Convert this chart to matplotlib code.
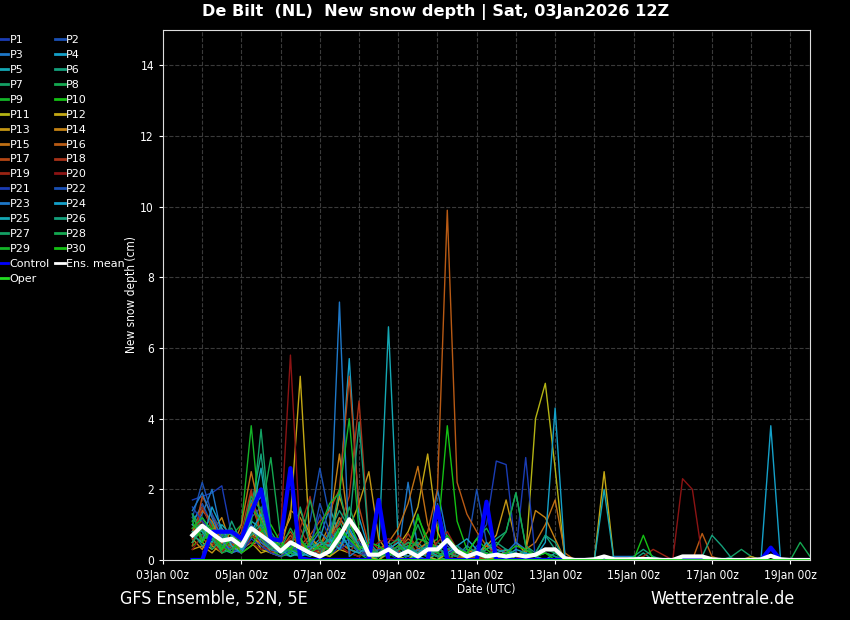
import matplotlib
matplotlib.use("Agg")
import matplotlib.pyplot as plt
import matplotlib.dates as mdates
import pandas as pd

# 6-hourly steps, first value valid 03Jan2026 18z, last 19Jan2026 12z
times = pd.date_range("2026-01-03 18:00", periods=64, freq="6h")

p1 = [1.7, 1.8, 1.9, 2.1, 0.7, 0.3, 0.9, 0.5,
      0.2, 0.1, 0.3, 0.2, 0.5, 0.3, 0.1, 0.4,
      0.9, 0.3, 0.1, 0, 0.2, 0, 0.4, 0.1,
      0, 0.3, 0.5, 0.2, 0, 0.4, 0.1, 0,
      0.2, 0, 0, 0, 0, 0, 0, 0,
      0, 0, 0, 0, 0, 0, 0, 0,
      0, 0, 0, 0, 0, 0, 0, 0,
      0, 0, 0, 0, 0, 0, 0, 0]
p2 = [1.0, 1.6, 1.0, 0.5, 0.4, 0.2, 1.2, 1.5,
      0.6, 0.3, 0.2, 0.6, 1.1, 2.6, 1.2, 0.3,
      1.0, 0.5, 0.2, 0, 0.3, 0.1, 0, 0.2,
      0.5, 0.1, 0, 0.2, 0.3, 2.0, 0.5, 0,
      0, 0.1, 0, 0, 0, 0, 0, 0,
      0, 0, 0, 0, 0, 0, 0, 0,
      0, 0, 0, 0, 0, 0, 0, 0,
      0, 0, 0, 0, 0, 0, 0, 0]
p3 = [0.8, 1.3, 2.0, 0.7, 0.3, 0.5, 1.7, 1.1,
      0.4, 0.2, 0.1, 0.4, 0.3, 0.2, 0.6, 1.2,
      0.8, 0.3, 0.1, 0.2, 0.5, 0.2, 2.2, 0.3,
      0.1, 2.0, 0.6, 0.2, 0, 0.3, 0.2, 0,
      0, 0, 0, 0, 0, 0, 0, 0,
      0, 0, 0, 0, 0, 0, 0, 0,
      0, 0, 0, 0, 0, 0, 0, 0,
      0, 0, 0, 0, 0, 0, 0, 0]
p4 = [1.1, 1.5, 0.9, 0.4, 0.6, 0.3, 1.4, 1.8,
      0.5, 0.3, 0.4, 0.2, 0.1, 0.3, 0.4, 1.8,
      5.7, 1.2, 0.3, 0.1, 0.4, 0.1, 0, 0.2,
      0.1, 0, 0.3, 0.1, 0, 0.2, 0, 0.1,
      0, 0, 0, 0, 0, 0, 0, 0,
      0, 0, 0, 0, 0, 0, 0, 0,
      0, 0, 0, 0, 0, 0, 0, 0,
      0, 0, 0, 3.8, 0, 0, 0, 0]
p5 = [0.6, 1.2, 0.8, 0.3, 0.2, 0.4, 1.1, 0.9,
      0.3, 0.1, 0.2, 0.1, 0.3, 0.6, 1.5, 0.7,
      0.4, 0.3, 0.1, 0.3, 6.6, 0.5, 0.2, 0.1,
      0, 0.2, 0.1, 0, 0.1, 0, 0.2, 0,
      0.1, 0, 0, 0, 0, 0, 0, 0,
      0, 0, 0, 0, 0, 0, 0, 0,
      0, 0, 0, 0, 0, 0, 0, 0,
      0, 0, 0, 0, 0, 0, 0, 0]
p6 = [1.3, 0.9, 0.6, 0.8, 0.3, 0.5, 1.5, 3.0,
      0.7, 0.3, 0.2, 0.4, 0.2, 0.1, 0.5, 0.9,
      0.6, 0.2, 0.1, 0, 0.3, 0.1, 0.3, 0.5,
      0.2, 0.1, 0.3, 0.4, 0.2, 0.1, 0.3, 0.6,
      0.8, 1.9, 0.4, 0.2, 0.7, 0.3, 0, 0,
      0, 0, 0, 0, 0, 0, 0.2, 0,
      0, 0, 0, 0, 0, 0, 0, 0,
      0, 0, 0, 0, 0, 0, 0, 0]
p7 = [0.9, 0.7, 1.1, 0.5, 0.4, 0.2, 1.0, 3.7,
      0.8, 0.4, 0.1, 0.3, 0.6, 0.2, 0.4, 1.1,
      0.5, 0.2, 0, 0.1, 0.2, 0.4, 0.1, 0.3,
      0.2, 0.5, 0.3, 0.1, 0, 0.2, 0.1, 0,
      0, 0.2, 0, 0, 0, 0, 0, 0,
      0, 0, 0, 0, 0, 0, 0, 0,
      0, 0, 0, 0, 0, 0, 0, 0.1,
      0.3, 0.1, 0, 0, 0, 0, 0, 0]
p8 = [0.5, 1.0, 0.4, 0.7, 0.9, 0.3, 0.6, 1.3,
      2.9, 0.6, 0.2, 0.1, 0.5, 0.3, 0.2, 0.7,
      1.2, 0.3, 0.1, 0.2, 0.1, 0.3, 0, 0.1,
      0.3, 0.1, 0, 0.2, 0.1, 0, 0, 0.2,
      0.1, 0, 0, 0, 0, 0, 0, 0,
      0, 0, 0, 0, 0, 0, 0, 0,
      0, 0, 0, 0, 0, 0, 0, 0,
      0, 0, 0, 0, 0, 0, 0.5, 0.1]
p9 = [1.2, 0.8, 0.5, 0.3, 0.7, 1.0, 3.8, 0.9,
      0.4, 0.2, 0.5, 0.3, 0.2, 0.1, 0.3, 0.8,
      0.6, 0.4, 0.2, 0.1, 0.3, 0.5, 0.2, 1.3,
      0.4, 0.1, 0.3, 0.2, 0.1, 0, 0.1, 0,
      0, 0, 0, 0, 0, 0, 0, 0,
      0, 0, 0, 0, 0, 0, 0, 0,
      0, 0, 0, 0, 0, 0, 0, 0,
      0, 0, 0, 0, 0, 0, 0, 0]
p10 = [0.4, 0.6, 1.0, 0.2, 0.5, 0.3, 0.7, 0.4,
       0.3, 0.1, 0.2, 0.4, 0.3, 0.2, 0.1, 0.6,
       1.1, 0.4, 0.3, 0.1, 0.2, 0.1, 0.3, 0.2,
       0.4, 0.6, 3.8, 1.1, 0.3, 0.2, 0.1, 0.3,
       0.2, 0.1, 0, 0, 0, 0, 0, 0,
       0, 0, 0, 0, 0, 0, 0, 0,
       0, 0, 0, 0, 0, 0, 0, 0,
       0, 0, 0, 0, 0, 0, 0, 0]
p11 = [0.7, 0.5, 0.3, 0.6, 0.2, 0.4, 0.8, 0.3,
       0.2, 0.1, 0.4, 0.6, 0.2, 0.1, 0.3, 0.5,
       0.3, 0.2, 0.1, 0, 0.2, 0.1, 0, 0.3,
       0.1, 0, 0.2, 0.1, 0, 0.3, 0.2, 0,
       0.3, 0, 0.1, 4.0, 5.0, 2.6, 0, 0,
       0, 0, 0, 0, 0, 0, 0, 0,
       0, 0, 0, 0, 0, 0, 0, 0,
       0, 0, 0, 0, 0, 0, 0, 0]
p12 = [0.5, 0.9, 0.4, 0.2, 0.6, 0.3, 0.5, 0.2,
       0.3, 0.6, 1.2, 5.2, 0.4, 0.2, 0.1, 0.3,
       0.2, 0.1, 0.3, 0.1, 0.2, 0.4, 0.8, 1.5,
       3.0, 0.8, 0.2, 0.1, 0, 0.2, 0.1, 0,
       0, 0, 0, 0, 0, 0, 0, 0,
       0, 0, 2.5, 0, 0, 0, 0, 0,
       0, 0, 0, 0, 0, 0, 0, 0,
       0, 0, 0, 0, 0, 0, 0, 0]
p13 = [0.3, 0.4, 0.2, 0.5, 0.8, 0.2, 0.4, 0.6,
       0.2, 0.4, 0.3, 1.4, 0.7, 0.3, 0.5, 1.8,
       0.9, 1.6, 2.5, 0.6, 0.2, 0.1, 0.3, 0.1,
       0.2, 0.1, 0.3, 0.2, 0, 0.1, 0.4, 0.7,
       1.7, 0.5, 0.2, 0.1, 0, 0, 0, 0,
       0, 0, 0, 0, 0, 0, 0, 0,
       0, 0, 0, 0, 0, 0, 0, 0,
       0, 0.1, 0, 0, 0, 0, 0, 0]
p14 = [0.6, 0.3, 0.8, 1.2, 0.4, 0.2, 0.9, 0.4,
       0.2, 0.3, 1.4, 1.2, 0.6, 0.4, 1.0, 3.0,
       0.8, 0.3, 0.1, 0.2, 0.4, 0.2, 0.1, 0.3,
       0.5, 0.2, 0.1, 0, 0.2, 0.3, 0.1, 0,
       0.2, 0.1, 0.3, 1.4, 1.2, 0.6, 0, 0,
       0, 0, 0, 0, 0, 0, 0, 0,
       0, 0, 0, 0, 0, 0, 0, 0,
       0, 0, 0, 0, 0, 0, 0, 0]
p15 = [0.8, 1.4, 1.1, 0.5, 0.3, 1.0, 2.5, 1.2,
       0.4, 0.2, 0.3, 0.5, 0.2, 0.1, 0.6, 1.2,
       0.7, 0.4, 0.2, 0.3, 0.5, 0.9, 1.6, 2.65,
       1.0, 0.3, 0.2, 0.1, 0, 0.2, 0.4, 0.3,
       0.2, 0.1, 0.3, 0.5, 1.0, 1.7, 0.2, 0,
       0, 0, 0, 0, 0, 0, 0, 0,
       0, 0, 0, 0, 0, 0, 0, 0,
       0, 0, 0, 0, 0, 0, 0, 0]
p16 = [1.0, 0.6, 0.4, 0.9, 0.5, 0.3, 1.6, 0.8,
       0.5, 0.3, 0.7, 0.4, 0.2, 0.4, 0.8, 0.5,
       0.3, 0.2, 0.4, 0.1, 0.2, 0.3, 0.6, 0.4,
       0.8, 2.0, 9.9, 2.2, 1.3, 0.8, 0.4, 0.2,
       0.1, 0, 0, 0, 0, 0, 0, 0,
       0, 0, 0, 0, 0, 0, 0, 0,
       0, 0, 0, 0, 0.75, 0.1, 0, 0,
       0, 0, 0, 0, 0, 0, 0, 0]
p17 = [0.4, 1.8, 1.3, 0.6, 0.2, 0.5, 1.9, 0.7,
       0.3, 0.5, 0.8, 0.4, 0.7, 1.1, 1.4, 2.0,
       5.2, 1.5, 0.4, 0.2, 0.1, 0.3, 0.5, 0.2,
       0.1, 0.3, 0.2, 0.1, 0, 0.1, 0, 0,
       0, 0, 0, 0, 0, 0, 0, 0,
       0, 0, 0, 0, 0, 0, 0, 0,
       0, 0, 0, 0, 0, 0, 0, 0,
       0, 0, 0, 0, 0, 0, 0, 0]
p18 = [0.9, 1.1, 0.7, 0.3, 0.4, 0.8, 2.0, 0.6,
       0.3, 0.2, 0.5, 0.9, 0.3, 0.2, 0.6, 1.0,
       1.8, 4.5, 0.6, 0.3, 0.4, 0.2, 0.75, 0.3,
       0.2, 0.4, 0.3, 0.1, 0.2, 0.1, 0, 0,
       0, 0, 0, 0, 0, 0, 0, 0,
       0, 0, 0, 0, 0, 0, 0, 0,
       0, 0, 0, 0, 0, 0, 0, 0,
       0, 0, 0, 0, 0, 0, 0, 0]
p19 = [0.6, 1.5, 0.9, 0.4, 0.3, 0.2, 0.7, 0.5,
       0.2, 0.4, 0.6, 0.9, 1.8, 0.5, 0.3, 0.4,
       0.2, 0.6, 0.3, 0.2, 0.1, 0.7, 0.4, 0.2,
       0.3, 0.5, 0.8, 0.3, 0.1, 0.2, 0.1, 0.4,
       0.2, 0.1, 0, 0, 0, 0, 0, 0,
       0, 0, 0, 0, 0, 0, 0.1, 0.3,
       0.15, 0, 0, 0, 0, 0, 0, 0,
       0, 0, 0, 0, 0, 0, 0, 0]
p20 = [0.3, 0.7, 0.5, 0.2, 0.6, 0.4, 0.5, 0.3,
       0.4, 0.8, 5.8, 0.6, 0.2, 0.3, 0.5, 0.4,
       0.2, 0.1, 0.3, 0.5, 0.6, 0.5, 0.3, 0.2,
       0.1, 0.2, 0.1, 0, 0, 0, 0, 0,
       0, 0, 0, 0, 0, 0, 0, 0,
       0, 0, 0, 0, 0, 0, 0, 0,
       0, 0, 2.3, 2.0, 0.1, 0, 0, 0,
       0, 0, 0, 0, 0, 0, 0, 0]
p21 = [1.5, 1.1, 0.8, 0.4, 0.3, 0.2, 0.6, 0.4,
       0.2, 0.1, 0.3, 0.2, 0.4, 1.3, 0.6, 0.3,
       0.5, 0.3, 0.1, 0.2, 0.1, 0.4, 0.2, 0.1,
       0.3, 0.2, 0.1, 0.4, 0.2, 0.6, 1.0, 2.8,
       2.7, 0.2, 2.9, 0, 0, 0, 0, 0,
       0, 0, 0, 0, 0, 0, 0, 0,
       0, 0, 0, 0, 0, 0, 0, 0,
       0, 0, 0, 0, 0, 0, 0, 0]
p22 = [1.2, 2.2, 1.3, 0.8, 0.5, 0.4, 1.0, 0.7,
       0.3, 0.2, 0.4, 0.2, 0.3, 1.6, 0.8, 0.4,
       0.6, 0.2, 0.1, 0.3, 0.2, 0.1, 0.4, 0.2,
       0.1, 1.6, 0.4, 0.2, 0.1, 0.3, 0.2, 0.1,
       0.1, 0, 0, 0, 0, 0, 0, 0,
       0, 0, 0, 0, 0, 0, 0, 0,
       0, 0, 0, 0, 0, 0, 0, 0,
       0, 0, 0, 0, 0, 0, 0, 0]
p23 = [1.4, 1.9, 1.2, 0.6, 0.2, 0.3, 0.9, 0.5,
       0.3, 0.2, 0.5, 0.3, 0.4, 0.8, 0.5, 7.3,
       0.1, 0.3, 0.2, 0.1, 0.4, 0.2, 0.1, 0.3,
       0.2, 0.4, 0.1, 0.3, 0.1, 0.2, 0.1, 0.3,
       0.2, 0.5, 0.3, 0.1, 0.2, 0.1, 0, 0,
       0, 0, 0, 0.1, 0.1, 0.1, 0, 0,
       0, 0, 0, 0, 0, 0, 0, 0,
       0, 0, 0, 0, 0, 0, 0, 0]
p24 = [0.7, 0.5, 1.5, 0.9, 0.4, 0.2, 0.8, 1.3,
       0.5, 0.2, 0.3, 0.1, 0.2, 0.4, 0.6, 0.3,
       0.9, 0.4, 0.2, 0.1, 0.3, 0.5, 0.2, 0.1,
       0.3, 0.1, 0.2, 0.4, 0.6, 0.3, 0.1, 0.2,
       0.1, 0.3, 0.2, 0.1, 0.5, 4.3, 0.1, 0,
       0, 0, 0, 0, 0, 0, 0, 0,
       0, 0, 0, 0, 0, 0, 0, 0,
       0, 0, 0, 0, 0, 0, 0, 0]
p25 = [1.0, 0.8, 0.5, 1.0, 0.7, 0.3, 1.2, 2.6,
       0.6, 0.3, 0.1, 0.2, 0.3, 0.5, 0.4, 0.9,
       0.3, 0.2, 0.4, 0.1, 0.2, 0.1, 0.3, 0.2,
       0.4, 0.2, 0.1, 0.3, 0.2, 0.1, 0.5, 0.2,
       0.3, 0.1, 0.2, 0.1, 0, 0.2, 0, 0,
       0, 0, 2.0, 0, 0, 0, 0, 0,
       0, 0, 0, 0, 0, 0, 0, 0,
       0, 0, 0, 0, 0, 0, 0, 0]
p26 = [0.8, 0.4, 0.6, 0.3, 1.1, 0.5, 0.7, 1.0,
       0.4, 0.2, 0.3, 0.6, 0.2, 0.1, 0.8, 1.4,
       0.9, 3.9, 0.5, 0.2, 0.1, 0.3, 0.4, 0.2,
       0.1, 0.3, 0.2, 0.1, 0.4, 0.2, 0.3, 0.5,
       0.3, 0.2, 0.1, 0.2, 0.7, 0.5, 0, 0,
       0, 0, 0, 0, 0, 0.1, 0.3, 0.1,
       0, 0, 0, 0, 0.1, 0.7, 0.4, 0.05,
       0, 0, 0, 0, 0, 0, 0, 0]
p27 = [0.5, 0.9, 0.3, 0.6, 0.8, 0.4, 0.9, 0.6,
       0.3, 0.5, 0.2, 1.5, 0.4, 0.3, 0.6, 2.0,
       0.7, 0.4, 0.3, 0.1, 0.2, 0.3, 0.5, 0.4,
       0.2, 0.1, 0.3, 0.4, 0.1, 0.3, 0.2, 0.1,
       0.2, 0.1, 0.3, 0.1, 0.2, 0.1, 0, 0,
       0, 0, 0, 0, 0, 0, 0, 0,
       0, 0, 0, 0, 0, 0, 0, 0,
       0, 0, 0, 0, 0, 0, 0, 0]
p28 = [1.3, 0.6, 0.7, 0.2, 0.3, 0.6, 1.8, 1.4,
       0.5, 0.3, 0.9, 0.4, 1.7, 0.6, 0.2, 0.5,
       1.5, 0.7, 0.3, 0.2, 0.4, 0.6, 0.3, 1.0,
       0.3, 0.2, 0.5, 0.3, 0.2, 0.6, 0.9, 0.4,
       0.8, 1.9, 0.4, 0.1, 0.3, 0.2, 0, 0,
       0, 0, 0, 0, 0, 0, 0, 0,
       0, 0, 0, 0, 0, 0, 0, 0,
       0, 0, 0, 0, 0, 0, 0, 0]
p29 = [0.9, 1.2, 0.8, 0.4, 0.2, 0.7, 1.5, 1.1,
       0.6, 0.4, 0.3, 0.2, 0.5, 0.9, 1.6, 1.9,
       4.0, 0.8, 0.3, 0.1, 0.2, 0.4, 0.2, 0.6,
       0.5, 0.2, 0.1, 0.3, 0.2, 0.1, 0.2, 0,
       0.1, 0, 0, 0, 0, 0, 0, 0,
       0, 0, 0, 0, 0, 0, 0, 0,
       0, 0, 0, 0, 0, 0, 0, 0,
       0, 0, 0, 0, 0, 0, 0, 0]
p30 = [1.1, 0.5, 0.9, 0.3, 0.6, 0.2, 0.4, 0.8,
       1.0, 0.5, 0.3, 0.6, 0.2, 0.4, 0.3, 0.9,
       0.6, 0.3, 0.5, 0.4, 0.2, 0.1, 0.3, 1.2,
       0.6, 0.3, 0.7, 0.3, 0.2, 0.6, 0.3, 0.1,
       0.2, 0.4, 0.3, 0.1, 0.2, 0, 0, 0,
       0, 0, 0, 0, 0, 0, 0.7, 0,
       0, 0, 0, 0, 0, 0, 0, 0,
       0, 0, 0, 0, 0, 0, 0, 0]

control = [0, 0, 0.8, 0.8, 0.8, 0.6, 1.35, 2.0,
           0.6, 0.55, 2.6, 0.05, 0, 0, 0, 0,
           0, 0, 0, 1.7, 0, 0, 0, 0,
           0, 1.5, 0, 0, 0, 0, 1.65, 0,
           0, 0, 0, 0, 0, 0, 0, 0,
           0, 0, 0, 0, 0, 0, 0, 0,
           0, 0, 0, 0, 0, 0, 0, 0,
           0, 0, 0, 0.35, 0, 0, 0, 0]
ens_mean = [0.7, 0.97, 0.75, 0.55, 0.6, 0.4, 0.9, 0.7,
            0.5, 0.25, 0.5, 0.35, 0.2, 0.1, 0.25, 0.65,
            1.15, 0.75, 0.15, 0.15, 0.3, 0.12, 0.25, 0.1,
            0.3, 0.3, 0.57, 0.25, 0.1, 0.2, 0.1, 0.15,
            0.1, 0.15, 0.1, 0.15, 0.3, 0.3, 0.05, 0,
            0, 0.02, 0.1, 0.02, 0.02, 0.02, 0.03, 0.02,
            0, 0, 0.1, 0.1, 0.1, 0.02, 0, 0,
            0, 0, 0.02, 0.12, 0.02, 0, 0, 0]
oper = [0] * 64

members = [p1, p2, p3, p4, p5, p6, p7, p8, p9, p10,
           p11, p12, p13, p14, p15, p16, p17, p18, p19, p20,
           p21, p22, p23, p24, p25, p26, p27, p28, p29, p30]

# colour ramp P1..P20, then P21..P30 repeat the first ten
ramp = ["#1a3cb4", "#1a50b4", "#1e78c8", "#14a0c8", "#14a8b4",
        "#14a07c", "#14a064", "#14a850", "#14b428", "#14c014",
        "#b4b414", "#c4a814", "#c49614", "#c48214", "#c07014",
        "#b85a14", "#b44614", "#a83218", "#9a2414", "#8c1414"]
member_colors = ramp + ramp[:10]

plt.rcParams["font.family"] = ["DejaVu Sans"]
plt.rcParams["font.stretch"] = "condensed"

fig = plt.figure(figsize=(8.5, 6.2), dpi=100, facecolor="black")
ax = fig.add_axes([163 / 850, 1 - 560 / 620, 647 / 850, 530 / 620])
ax.set_facecolor("black")

handles = {}
for k, vals in enumerate(members):
    (ln,) = ax.plot(times, vals, color=member_colors[k], lw=1.0,
                    label=f"P{k + 1}")
    handles[f"P{k + 1}"] = ln
(ln,) = ax.plot(times, control, color="#0000ff", lw=3.0, label="Control")
handles["Control"] = ln
(ln,) = ax.plot(times, ens_mean, color="white", lw=3.0, label="Ens. mean")
handles["Ens. mean"] = ln
(ln,) = ax.plot(times, oper, color="#22dd22", lw=2.0, label="Oper", zorder=5)
handles["Oper"] = ln

ax.set_xlim(pd.Timestamp("2026-01-03 00:00"), pd.Timestamp("2026-01-19 12:00"))
ax.set_ylim(0, 15)
ax.set_yticks(range(0, 15, 2))
ax.xaxis.set_major_locator(mdates.DayLocator(bymonthday=range(3, 32, 2)))
ax.xaxis.set_minor_locator(mdates.DayLocator())
ax.xaxis.set_major_formatter(mdates.DateFormatter("%d%b %Hz"))

ax.grid(True, which="both", axis="x", color="#3a3a3a", ls="--", lw=0.8)
ax.grid(True, which="major", axis="y", color="#3a3a3a", ls="--", lw=0.8)
ax.set_axisbelow(True)
for side in ["top", "right", "bottom", "left"]:
    ax.spines[side].set_color("#dddddd")
ax.tick_params(colors="white", labelsize=8.6, length=3)
ax.tick_params(which="minor", length=0)

# legend, filled column by column: odd members left, even right
left = [f"P{k}" for k in range(1, 31, 2)] + ["Control", "Oper"]
right = [f"P{k}" for k in range(2, 31, 2)] + ["Ens. mean"]
order = left + right
leg = fig.legend([handles[n] for n in order], order, ncol=2,
                 loc="upper left", bbox_to_anchor=(-0.0085, 0.952),
                 frameon=False, handlelength=0.9,
                 prop={"size": 8, "stretch": "normal"},
                 handletextpad=0.1, labelspacing=0.44, columnspacing=0.5,
                 borderpad=0)
for t in leg.get_texts():
    t.set_color("white")
for h in leg.get_lines():
    h.set_linewidth(2.0)

fig.text(436 / 850, 1 - 12 / 620,
         "De Bilt  (NL)  New snow depth | Sat, 03Jan2026 12Z",
         color="white", fontsize=11.6, fontweight="bold", fontstretch="normal",
         ha="center", va="center")
fig.text(132 / 850, 1 - 295 / 620, "New snow depth (cm)", color="white",
         fontsize=8.6, rotation=90, ha="center", va="center")
fig.text(486 / 850, 1 - 589 / 620, "Date (UTC)", color="white",
         fontsize=8.6, ha="center", va="center")
fig.text(120 / 850, 1 - 599 / 620, "GFS Ensemble, 52N, 5E", color="white",
         fontsize=12.8, ha="left", va="center")
fig.text(650 / 850, 1 - 599 / 620, "Wetterzentrale.de", color="white",
         fontsize=12.8, ha="left", va="center")

fig.savefig("out.png", dpi=100, facecolor="black")
